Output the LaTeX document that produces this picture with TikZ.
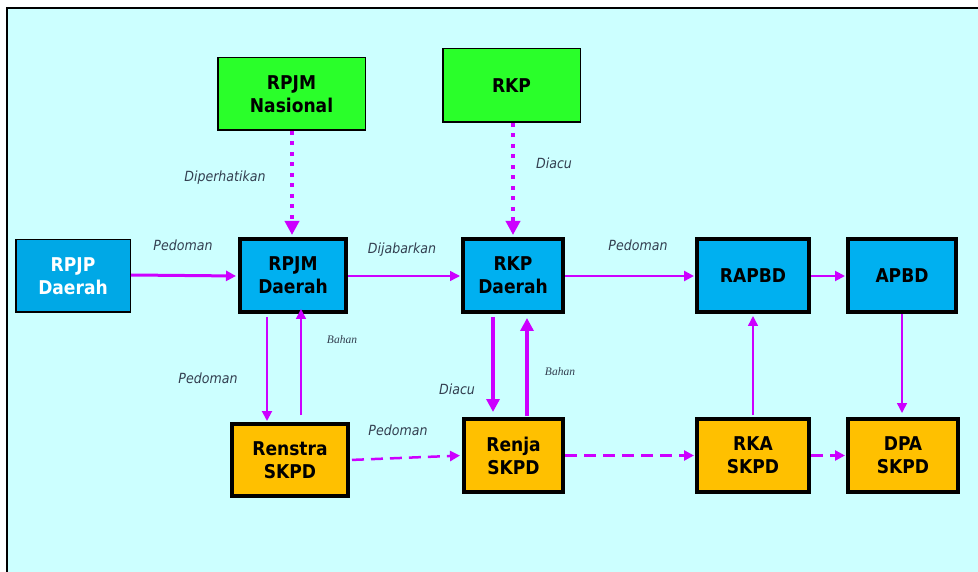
\documentclass[tikz,border=0pt]{standalone}
\usepackage{fontspec}
\setmainfont{DejaVu Sans}[FakeStretch=0.9]
\newfontfamily\bahanfont{Liberation Serif}
\usetikzlibrary{arrows.meta}
\definecolor{bgcyan}{HTML}{CCFFFF}
\definecolor{boxgreen}{HTML}{2AFF2A}
\definecolor{boxblue}{HTML}{00B0F0}
\definecolor{boxblueb}{HTML}{00A8E6}
\definecolor{boxorange}{HTML}{FFC000}
\definecolor{mag}{HTML}{CC00FF}
\definecolor{lbl}{HTML}{333F50}
\tikzset{
  box/.style={rectangle, inner sep=0pt, align=center, font=\fontsize{19}{23}\selectfont\bfseries},
  thinbox/.style={box, draw=black, line width=1.5pt},
  thickbox/.style={box, draw=black, line width=4pt},
  lab/.style={font=\fontsize{14}{16}\selectfont\itshape, text=lbl, inner sep=0pt},
  bahanlab/.style={font=\bahanfont\fontsize{11.5}{13}\selectfont\itshape, text=lbl, inner sep=0pt},
  arr/.style={draw=mag, -{Triangle[length=10pt,width=10pt]}},
  bigarr/.style={draw=mag, -{Triangle[length=13pt,width=13pt]}},
  dotarr/.style={draw=mag, -{Triangle[length=14pt,width=14pt]}, line width=4pt, dash pattern=on 4pt off 6.5pt},
  dasharr/.style={arr, line width=2.5pt, dash pattern=on 12pt off 7pt},
}
\begin{document}
\begin{tikzpicture}[x=1pt,y=-1pt]
\useasboundingbox (0,0) rectangle (978,572);
\fill[white] (0,0) rectangle (978,572);
\fill[bgcyan] (8,9) rectangle (978,572);
\draw[line width=2pt, black] (7,572) -- (7,8) -- (978,8);

% top green boxes
\node[thinbox, fill=boxgreen, minimum width=147.5pt, minimum height=72.5pt] (nas) at (291.5,94) {RPJM\\Nasional};
\node[thinbox, fill=boxgreen, minimum width=137.5pt, minimum height=73.5pt] (rkp) at (511.5,85.5) {RKP};

% middle row
\node[thinbox, fill=boxblueb, text=white, minimum width=114.5pt, minimum height=72.5pt] (rpjp) at (73,276) {RPJP\\Daerah};
\node[thickbox, fill=boxblue, minimum width=106pt, minimum height=73pt] (rpjmd) at (293,275.5) {RPJM\\Daerah};
\node[thickbox, fill=boxblue, minimum width=100pt, minimum height=73pt] (rkpd) at (513,275.5) {RKP\\Daerah};
\node[thickbox, fill=boxblue, minimum width=112pt, minimum height=73pt] (rapbd) at (753,275.5) {RAPBD};
\node[thickbox, fill=boxblue, minimum width=108pt, minimum height=73pt] (apbd) at (902,275.5) {APBD};

% bottom row
\node[thickbox, fill=boxorange, minimum width=116pt, minimum height=72pt] (renstra) at (290,460) {Renstra\\SKPD};
\node[thickbox, fill=boxorange, minimum width=99pt, minimum height=73pt] (renja) at (513.5,455.5) {Renja\\SKPD};
\node[thickbox, fill=boxorange, minimum width=112pt, minimum height=73pt] (rka) at (753,455.5) {RKA\\SKPD};
\node[thickbox, fill=boxorange, minimum width=110pt, minimum height=73pt] (dpa) at (903,455.5) {DPA\\SKPD};

% dotted arrows from the top
\draw[dotarr, shorten >=2pt] ([xshift=0.5pt]nas.south) -- ([xshift=-1pt]rpjmd.north);
\draw[dotarr, shorten >=2pt] ([xshift=1.5pt]rkp.south) -- (rkpd.north);

% horizontal arrows, middle row
\draw[arr, line width=3pt, shorten >=2pt] ([yshift=1pt]rpjp.east) -- ([yshift=-0.5pt]rpjmd.west);
\draw[arr, line width=1.5pt, shorten >=1pt] ([yshift=-0.5pt]rpjmd.east) -- ([yshift=-0.5pt]rkpd.west);
\draw[arr, line width=2.5pt, shorten >=1pt] ([yshift=-0.5pt]rkpd.east) -- ([yshift=-0.5pt]rapbd.west);
\draw[arr, line width=2pt, shorten >=1pt] ([yshift=-0.5pt]rapbd.east) -- ([yshift=-0.5pt]apbd.west);

% vertical arrows
\draw[arr, line width=1.5pt, shorten >=4pt] (apbd.south) -- ([xshift=-1pt]dpa.north);
\draw[arr, line width=1.5pt, shorten <=2pt, shorten >=2pt] (rka.north) -- (rapbd.south);
\draw[arr, line width=2pt, shorten <=3pt, shorten >=1pt] ([xshift=-26pt]rpjmd.south) -- ([xshift=-23pt]renstra.north);
\draw[arr, line width=1.5pt, shorten <=7pt, shorten >=-5pt] ([xshift=11pt]renstra.north) -- ([xshift=8pt]rpjmd.south);
\draw[bigarr, line width=4pt, shorten <=3pt, shorten >=5pt] ([xshift=-20pt]rkpd.south) -- ([xshift=-20.5pt]renja.north);
\draw[bigarr, line width=4pt, shorten <=1pt, shorten >=4pt] ([xshift=13.5pt]renja.north) -- ([xshift=14pt]rkpd.south);

% dashed arrows, bottom row
\draw[dasharr, shorten <=2pt, shorten >=2pt] (renstra.east) -- (renja.west);
\draw[dasharr, shorten >=1pt] (renja.east) -- (rka.west);
\draw[dasharr, shorten >=1pt] (rka.east) -- (dpa.west);

% labels
\node[lab] (l1) at (225,178) {Diperhatikan};
\node[lab] (l2) at (554,163) {Diacu};
\node[lab] (l3) at (183,245) {Pedoman};
\node[lab] (l4) at (402,250) {Dijabarkan};
\node[lab] (l5) at (638,245) {Pedoman};
\node[lab] (l6) at (208,378) {Pedoman};
\node[bahanlab] (l7) at (342,340) {Bahan};
\node[lab] (l8) at (457,389) {Diacu};
\node[bahanlab] (l9) at (560,372) {Bahan};
\node[lab] (l10) at (398,430) {Pedoman};
\end{tikzpicture}
\end{document}
